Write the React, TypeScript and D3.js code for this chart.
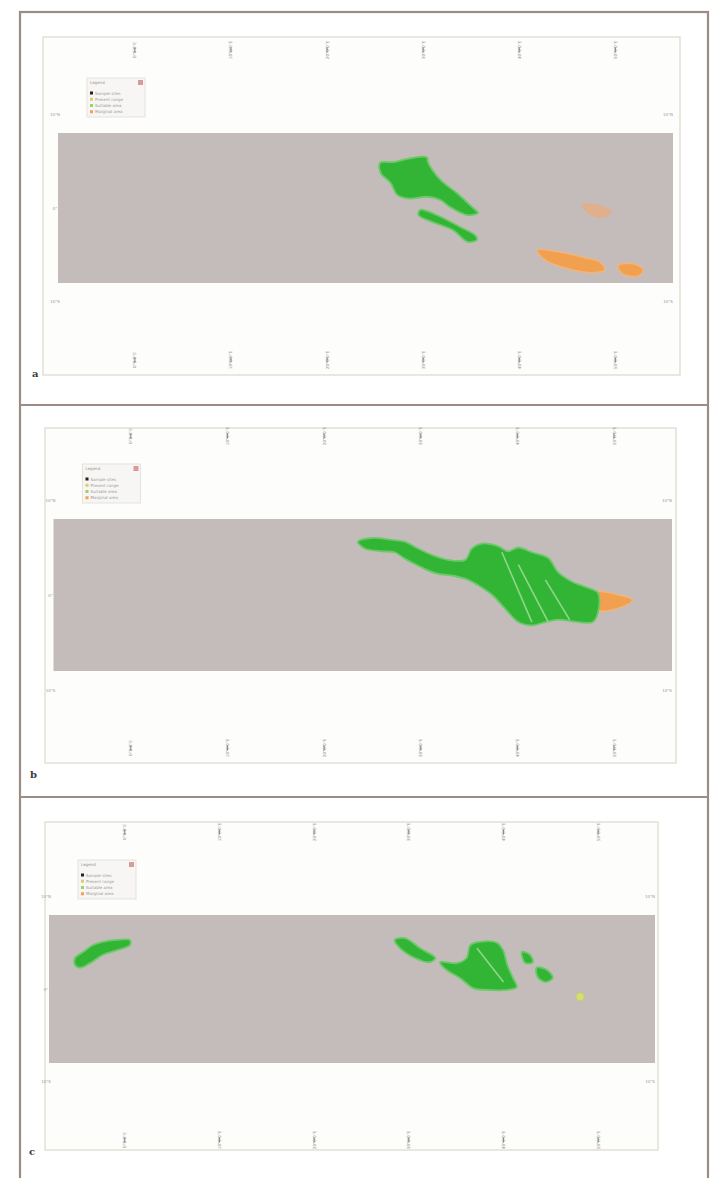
import * as d3 from "d3";
import { useEffect, useRef } from "react";

type Pt = [number, number]; // [lon, lat]

// axes
const lonExtent: [number, number] = [-8, 56];
const latExtent: [number, number] = [8, -8];
const lonTicks = [0, 10, 20, 30, 40, 50];
const latTicks = [10, 0, -10];
const panelLabels = ["a", "b", "c"];

// legend
const legendTitle = "Legend";
const legendItems = ["Sample sites", "Present range", "Suitable area", "Marginal area"];
const legendColors = ["#222222", "#d9d06a", "#9ad36e", "#f2a14e"];

// panel a
const greenA: Pt[][] = [
  [[25.5, 4.8], [26.9, 4.9], [28.6, 5.3], [30.4, 5.4], [30.5, 4.9], [31.8, 3.0], [33.5, 1.6], [35.2, 0.0], [35.7, -0.5],
   [34.6, -0.75], [32.8, 0.1], [31.8, 0.85], [30.4, 1.2], [28.6, 1.0], [27.3, 1.4], [26.6, 2.7], [25.6, 3.7]],
  [[29.7, -0.2], [31.4, -0.75], [33.8, -2.0], [35.4, -2.9], [35.6, -3.4], [34.6, -3.6], [33.1, -2.35], [31.0, -1.5], [29.5, -0.75]],
];
const orangeA: Pt[][] = [
  [[41.85, -4.5], [44.2, -4.7], [46.8, -5.3], [48.4, -5.75], [48.9, -6.6], [47.4, -6.9], [44.8, -6.4], [42.7, -5.55]],
  [[50.3, -6.1], [52.05, -6.0], [52.9, -6.6], [52.4, -7.25], [50.7, -7.0]],
];
const faintA: Pt[][] = [
  [[46.5, 0.4], [48.4, 0.3], [49.65, -0.4], [48.9, -1.05], [47.2, -0.65]],
];

// panel b
const greenB: Pt[][] = [
  [[23.5, 5.6], [24.96, 6.0], [27.0, 5.8], [28.4, 5.6], [29.7, 4.9], [31.2, 4.2], [32.8, 3.7], [34.6, 3.7], [35.3, 4.9],
   [36.3, 5.4], [38.0, 5.15], [39.0, 4.6], [40.1, 5.0], [41.5, 4.5], [43.2, 3.9], [44.2, 2.4], [45.65, 1.4], [47.3, 0.75],
   [48.35, 0.2], [48.35, -1.8], [47.8, -2.85], [46.3, -2.85], [44.2, -2.6], [42.9, -2.85], [41.5, -3.2], [40.1, -2.85],
   [38.7, -1.4], [37.4, 0.0], [35.9, 1.05], [34.9, 1.6], [33.5, 2.0], [31.5, 2.3], [29.7, 3.1], [28.4, 3.8], [27.3, 4.5],
   [26.0, 4.6], [24.2, 4.9]],
];
const orangeB: Pt[][] = [
  [[48.1, 0.3], [50.1, 0.1], [51.9, -0.5], [51.1, -1.15], [48.35, -1.6]],
];
const streaksB: Pt[][] = [
  [[38.4, 4.5], [41.5, -2.85]],
  [[40.1, 3.2], [43.2, -2.85]],
  [[42.9, 1.6], [45.4, -2.6]],
];

// panel c
const greenC: Pt[][] = [
  [[-5.25, 3.35], [-4.4, 4.0], [-3.35, 4.75], [-2.3, 5.1], [-0.8, 5.3], [0.55, 5.3], [0.55, 4.75], [-0.8, 4.2], [-2.3, 3.7],
   [-3.65, 2.8], [-4.7, 2.3], [-5.25, 2.6]],
  [[33.3, 2.9], [35.1, 2.8], [36.1, 3.35], [36.5, 4.75], [37.5, 5.1], [39.3, 5.0], [39.95, 4.2], [40.4, 2.6], [41.0, 1.2],
   [41.4, 0.2], [40.4, -0.1], [38.25, -0.1], [36.8, 0.1], [35.4, 1.2], [34.0, 2.05]],
  [[28.5, 5.3], [29.6, 5.5], [31.2, 4.4], [32.8, 3.35], [32.2, 2.9], [30.65, 3.35], [29.1, 4.4]],
  [[41.95, 4.0], [42.8, 3.7], [43.1, 2.9], [42.3, 2.8]],
  [[43.5, 2.3], [44.6, 2.05], [45.2, 1.2], [44.4, 0.75], [43.6, 1.3]],
];
const streaksC: Pt[][] = [
  [[37.2, 4.4], [40.0, 0.75]],
];
const dotsC: Pt[] = [[48.1, -0.85]];

const panelData = [
  { green: greenA, orange: orangeA, faint: faintA, streaks: [] as Pt[][], dots: [] as Pt[] },
  { green: greenB, orange: orangeB, faint: [] as Pt[][], streaks: streaksB, dots: [] as Pt[] },
  { green: greenC, orange: [] as Pt[][], faint: [] as Pt[][], streaks: streaksC, dots: dotsC },
];

// layout in pixels
const layout = [
  { grey: [58, 673, 133, 283], frame: [43, 680, 37, 375], label: [32, 377] },
  { grey: [53.5, 672, 519, 671], frame: [45, 676, 428, 763], label: [30, 778] },
  { grey: [49, 655, 915, 1063], frame: [45, 658, 822, 1150], label: [29, 1155] },
];

const W = 711;
const H = 1178;

const fmtLon = (v: number) => `${v}°0'0"E`;
const fmtLat = (v: number) => (v === 0 ? "0°" : `${Math.abs(v)}°${v > 0 ? "N" : "S"}`);

export default function App() {
  const ref = useRef<SVGSVGElement>(null);

  useEffect(() => {
    if (!ref.current) return;
    const svg = d3.select(ref.current);
    svg.selectAll("*").remove();

    const defs = svg.append("defs");
    defs.append("filter").attr("id", "soft").append("feGaussianBlur").attr("stdDeviation", 0.7);

    svg.append("rect").attr("width", W).attr("height", H).attr("fill", "#ffffff");

    layout.forEach((p, i) => {
      const [gx0, gx1, gy0, gy1] = p.grey;
      const [fx0, fx1, fy0, fy1] = p.frame;
      const data = panelData[i];

      const x = d3.scaleLinear().domain(lonExtent).range([gx0, gx1]);
      const y = d3.scaleLinear().domain(latExtent).range([gy0, gy1]);

      const g = svg.append("g");

      // frame
      g.append("rect")
        .attr("x", fx0).attr("y", fy0)
        .attr("width", fx1 - fx0).attr("height", fy1 - fy0)
        .attr("fill", "#fdfdfb")
        .attr("stroke", "#e4dfd6")
        .attr("stroke-width", 1.5);

      // lon ticks top and bottom (rotated labels)
      [gy0 - 83, gy1 + 77].forEach((cy) => {
        g.selectAll(null)
          .data(lonTicks)
          .enter()
          .append("text")
          .attr("transform", (d) => `translate(${x(d) + 1.5},${cy}) rotate(-90)`)
          .attr("text-anchor", "middle")
          .attr("font-family", "DejaVu Sans, sans-serif")
          .attr("font-size", 4.2)
          .attr("fill", "#8c8c8c")
          .text((d) => fmtLon(d));
        g.selectAll(null)
          .data(lonTicks)
          .enter()
          .append("line")
          .attr("x1", (d) => x(d)).attr("x2", (d) => x(d))
          .attr("y1", cy - 2.5).attr("y2", cy + 2.5)
          .attr("stroke", "#8a8a8a")
          .attr("stroke-width", 1.1);
      });

      // lat marks left and right
      g.selectAll(null)
        .data(latTicks)
        .enter()
        .append("text")
        .attr("x", gx0 - 3)
        .attr("y", (d) => y(d) + 1.5)
        .attr("text-anchor", "middle")
        .attr("font-family", "DejaVu Sans, sans-serif")
        .attr("font-size", 4)
        .attr("fill", "#9a9a9a")
        .text((d) => fmtLat(d));
      g.selectAll(null)
        .data(latTicks.filter((d) => d !== 0))
        .enter()
        .append("text")
        .attr("x", gx1 - 5)
        .attr("y", (d) => y(d) + 1.5)
        .attr("text-anchor", "middle")
        .attr("font-family", "DejaVu Sans, sans-serif")
        .attr("font-size", 4)
        .attr("fill", "#9a9a9a")
        .text((d) => fmtLat(d));

      // grey map extent
      g.append("rect")
        .attr("x", gx0).attr("y", gy0)
        .attr("width", gx1 - gx0).attr("height", gy1 - gy0)
        .attr("fill", "#c4bcba");

      const shape = d3.line<Pt>()
        .x((d) => x(d[0]))
        .y((d) => y(d[1]))
        .curve(d3.curveCatmullRomClosed.alpha(0.5));

      const blobs = g.append("g").attr("filter", "url(#soft)");

      blobs.selectAll(null)
        .data(data.faint)
        .enter()
        .append("path")
        .attr("d", (d) => shape(d))
        .attr("fill", "#e9ab78")
        .attr("opacity", 0.7);

      blobs.selectAll(null)
        .data(data.orange)
        .enter()
        .append("path")
        .attr("d", (d) => shape(d))
        .attr("fill", "#f1a04f")
        .attr("stroke", "#f3b47a")
        .attr("stroke-width", 1.5);

      blobs.selectAll(null)
        .data(data.green)
        .enter()
        .append("path")
        .attr("d", (d) => shape(d))
        .attr("fill", "#33b534")
        .attr("stroke", "#6cc96a")
        .attr("stroke-width", 1.8);

      const straight = d3.line<Pt>().x((d) => x(d[0])).y((d) => y(d[1]));
      blobs.selectAll(null)
        .data(data.streaks)
        .enter()
        .append("path")
        .attr("d", (d) => straight(d))
        .attr("fill", "none")
        .attr("stroke", "#8fd68a")
        .attr("stroke-width", 1.6);

      blobs.selectAll(null)
        .data(data.dots)
        .enter()
        .append("circle")
        .attr("cx", (d) => x(d[0]))
        .attr("cy", (d) => y(d[1]))
        .attr("r", 4)
        .attr("fill", "#d6de78")
        .attr("stroke", "#c2d35a")
        .attr("stroke-width", 1);

      // legend box
      const lx = gx0 + 29;
      const ly = gy0 - 55;
      const lg = g.append("g").attr("transform", `translate(${lx},${ly})`);
      lg.append("rect")
        .attr("width", 58).attr("height", 39)
        .attr("fill", "#f7f6f4")
        .attr("stroke", "#e2ddd8")
        .attr("stroke-width", 0.8);
      lg.append("text")
        .attr("x", 3).attr("y", 6)
        .attr("font-family", "DejaVu Sans, sans-serif")
        .attr("font-size", 4)
        .attr("fill", "#9a8f8f")
        .text(legendTitle);
      lg.append("rect")
        .attr("x", 51).attr("y", 2)
        .attr("width", 5).attr("height", 5)
        .attr("fill", "#d99a9a");
      const ey = d3.scaleBand<number>()
        .domain(d3.range(legendItems.length))
        .range([12, 37]);
      lg.selectAll(null)
        .data(legendItems)
        .enter()
        .append("rect")
        .attr("x", 3)
        .attr("y", (_, j) => (ey(j) ?? 0) + 1.5)
        .attr("width", 3).attr("height", 3)
        .attr("fill", (_, j) => legendColors[j]);
      lg.selectAll(null)
        .data(legendItems)
        .enter()
        .append("text")
        .attr("x", 8)
        .attr("y", (_, j) => (ey(j) ?? 0) + 4.5)
        .attr("font-family", "DejaVu Sans, sans-serif")
        .attr("font-size", 4)
        .attr("fill", "#9b9b9b")
        .text((d) => d);

      // panel letter
      g.append("text")
        .attr("x", p.label[0]).attr("y", p.label[1])
        .attr("font-family", "DejaVu Serif, serif")
        .attr("font-weight", "bold")
        .attr("font-size", 10)
        .attr("fill", "#3a3a3a")
        .text(panelLabels[i]);
    });

    // outer border and separators
    svg.append("rect")
      .attr("x", 20).attr("y", 12)
      .attr("width", 688).attr("height", H + 10)
      .attr("fill", "none")
      .attr("stroke", "#9d8b86")
      .attr("stroke-width", 2.2);
    svg.selectAll(null)
      .data([405, 797])
      .enter()
      .append("line")
      .attr("x1", 20).attr("x2", 708)
      .attr("y1", (d) => d).attr("y2", (d) => d)
      .attr("stroke", "#9d8b86")
      .attr("stroke-width", 2.2);
  }, []);

  return (
    <svg
      ref={ref}
      width={W}
      height={H}
      style={{ position: "absolute", left: 0, top: 0, display: "block" }}
    />
  );
}
